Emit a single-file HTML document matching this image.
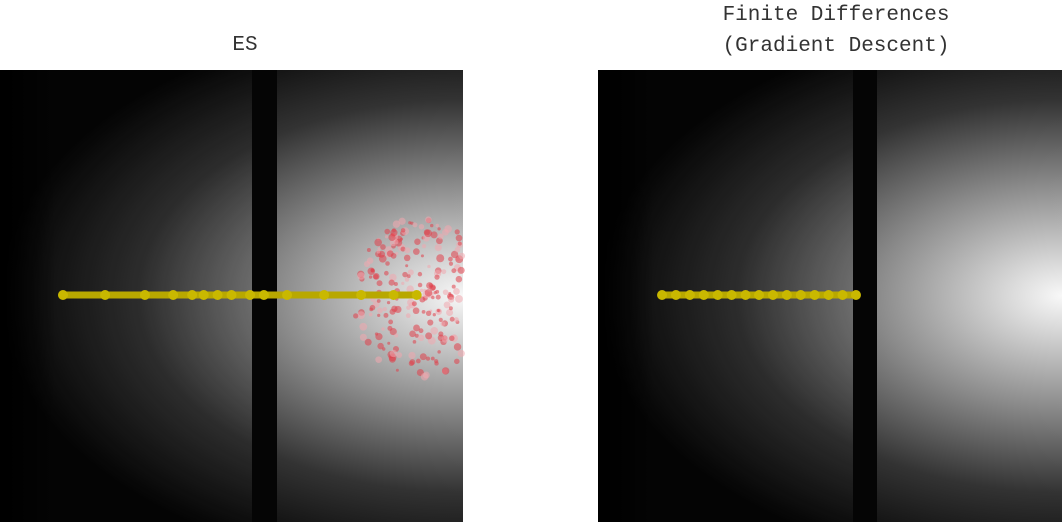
<!DOCTYPE html>
<html><head><meta charset="utf-8"><style>
html,body{margin:0;padding:0;background:#fff;width:1062px;height:522px;overflow:hidden}
svg{display:block}
text{font-family:"Liberation Mono",monospace;fill:#333;font-size:21px}
</style></head><body>
<svg id="c" width="1062" height="522">
<defs>
<radialGradient id="glow" cx="1" cy="0.5" r="1" gradientTransform="translate(1,0.5) scale(1,0.62) translate(-1,-0.5)">
<stop offset="0" stop-color="#f8f8f8"/>
<stop offset="0.12" stop-color="#d8d8d8"/>
<stop offset="0.4" stop-color="#8a8a8a"/>
<stop offset="0.7" stop-color="#333"/>
<stop offset="1" stop-color="#050505"/>
</radialGradient>
<linearGradient id="edge" x1="0" x2="1" y1="0" y2="0">
<stop offset="0" stop-color="#000" stop-opacity="0.9"/>
<stop offset="0.12" stop-color="#000" stop-opacity="0"/>
</linearGradient>
</defs>
<text x="245" y="50" text-anchor="middle">ES</text>
<text x="836" y="20" text-anchor="middle">Finite Differences</text>
<text x="836" y="51" text-anchor="middle">(Gradient Descent)</text>
<g id="left">
<rect x="0" y="70" width="463" height="452" fill="url(#glow)"/>
<rect x="0" y="70" width="463" height="452" fill="url(#edge)"/>
<rect x="0" y="70" width="252" height="452" fill="#000" opacity="0.12"/>
<rect x="252" y="70" width="25" height="452" fill="#050505"/>
<g id="noise"></g>
<g id="esPts"></g>
</g>
<g id="right">
<rect x="598" y="70" width="464" height="452" fill="url(#glow)"/>
<rect x="598" y="70" width="464" height="452" fill="url(#edge)"/>
<rect x="598" y="70" width="255" height="452" fill="#000" opacity="0.12"/>
<rect x="853" y="70" width="24" height="452" fill="#050505"/>
<g id="fdPts"></g>
</g>
</svg>
<script>
const esX=[0.136,0.227,0.313,0.374,0.415,0.44,0.47,0.50,0.54,0.57,0.62,0.70,0.78,0.85,0.90];
const fdX=[0.138,0.168,0.198,0.228,0.258,0.288,0.318,0.347,0.377,0.407,0.437,0.467,0.497,0.527,0.556];
const trajY=0.5;
const NS='http://www.w3.org/2000/svg';
function sx(x0,w){return v=>x0+v*w;}
function sy(v){return 70+v*452-1;}
function draw(gid,arr,x0,w){
 const g=document.getElementById(gid),f=sx(x0,w);
 const ln=document.createElementNS(NS,'line');
 ln.setAttribute('x1',f(arr[0]));ln.setAttribute('x2',f(arr[arr.length-1]));
 ln.setAttribute('y1',sy(trajY));ln.setAttribute('y2',sy(trajY));
 ln.setAttribute('stroke','#b8a800');ln.setAttribute('stroke-width','7');
 
 
 g.appendChild(ln);
 arr.forEach(v=>{const c=document.createElementNS(NS,'circle');
  c.setAttribute('cx',f(v));c.setAttribute('cy',sy(trajY));c.setAttribute('r','5');
  c.setAttribute('fill','#c9b800');
  
  
  g.appendChild(c);});
}
// decorative noise texture (seeded)
let s=7;function rnd(){s=(s*16807)%2147483647;return s/2147483647;}
const ng=document.getElementById('noise');
for(let i=0;i<260;i++){
 const a=rnd()*6.283,r=Math.sqrt(rnd())*70;
 const x=420+Math.cos(a)*r*0.95,y=298+Math.sin(a)*r*1.15;
 if(x>463)continue;
 const c=document.createElementNS(NS,'circle');
 c.setAttribute('cx',x);c.setAttribute('cy',y);c.setAttribute('r',1.5+rnd()*2.5);
 c.setAttribute('fill',rnd()<0.6?'#e0404a':'#f0a8ae');c.setAttribute('opacity','0.55');
 
 
 ng.appendChild(c);
}
draw('esPts',esX,0,463);
draw('fdPts',fdX,598,464);
</script>
</body></html>
